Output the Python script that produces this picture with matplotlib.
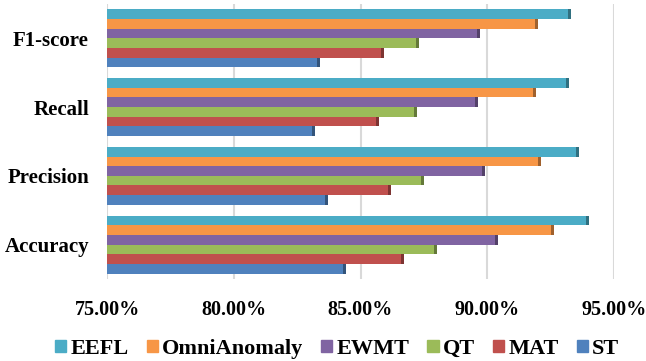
import numpy as np
import matplotlib.pyplot as plt
from matplotlib.patches import Patch

# metric categories, bottom to top
categories = ['Accuracy', 'Precision', 'Recall', 'F1-score']

# method scores (%) per category
st = [84.3, 83.6, 83.1, 83.3]
mat = [86.6, 86.1, 85.6, 85.8]
qt = [87.9, 87.4, 87.1, 87.2]
ewmt = [90.3, 89.8, 89.5, 89.6]
omni = [92.5, 92.0, 91.8, 91.9]
eefl = [93.9, 93.5, 93.1, 93.2]

series = [
    ('ST', st, '#4F81BD'),
    ('MAT', mat, '#C0504D'),
    ('QT', qt, '#9BBB59'),
    ('EWMT', ewmt, '#8064A2'),
    ('OmniAnomaly', omni, '#F79646'),
    ('EEFL', eefl, '#4BACC6'),
]

plt.rcParams['font.family'] = ['Liberation Serif', 'DejaVu Serif']
plt.rcParams['font.weight'] = 'bold'

fig = plt.figure(figsize=(6.46, 3.61), dpi=100)
ax = fig.add_axes([107 / 646, 1 - 279 / 361, 507 / 646, 275 / 361])

y = np.arange(len(categories))
h = 0.14
left = 75
for i, (name, vals, color) in enumerate(series):
    pos = y - 0.42 + h / 2 + i * h
    widths = np.array(vals) - left
    ax.barh(pos, widths, height=h, left=left, color=color, zorder=3)
    # darker end cap for the 3d look
    ax.barh(pos, 0.12, height=h, left=np.array(vals), color=color,
            zorder=3, edgecolor='none')
    ax.barh(pos, 0.12, height=h, left=np.array(vals), color='black',
            alpha=0.35, zorder=4, edgecolor='none')

ax.set_xlim(75, 95)
ax.set_ylim(-0.5, 3.5)
ax.set_xticks([75, 80, 85, 90, 95])
ax.set_xticklabels(['75.00%', '80.00%', '85.00%', '90.00%', '95.00%'])
ax.set_yticks(y)
ax.set_yticklabels(categories)
ax.tick_params(axis='x', length=0, labelsize=14.5, pad=15)
ax.tick_params(axis='y', length=0, labelsize=15, pad=13)
ax.grid(axis='x', color='#d9d9d9', linewidth=1.5, zorder=0)
for s in ax.spines.values():
    s.set_visible(False)

handles = [Patch(color=c, label=n) for n, _, c in series[::-1]]
fig.legend(handles=handles, loc='center', bbox_to_anchor=(0.522, 1 - 349 / 361),
           ncol=6, frameon=False, fontsize=16, handlelength=0.5,
           handleheight=0.5, handletextpad=0.2, columnspacing=0.8)

fig.savefig('out.png', dpi=100)
